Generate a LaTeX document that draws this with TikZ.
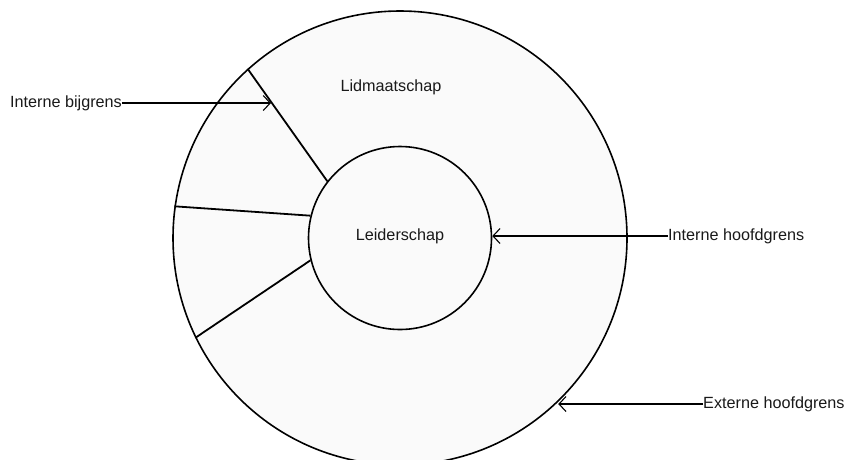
\documentclass[tikz,border=0pt]{standalone}
\usepackage{fontspec}
\setmainfont{Liberation Sans}
\usetikzlibrary{arrows.meta}
\begin{document}
\begin{tikzpicture}[x=1pt,y=-1pt,
  ring/.style={circle,draw,line width=1.6pt,fill=black!2,inner sep=0pt},
  border/.style={line width=1.8pt},
  lbl/.style={inner sep=0pt,font=\fontsize{16.2}{19}\selectfont,text=black!90},
  pointer/.style={line width=1.1pt,-{Straight Barb[length=7pt,width=15pt,line width=1.1pt]}}]
\useasboundingbox (0,0) rectangle (853,459);
\clip (0,0) rectangle (853,459);
\node[ring,minimum size=454pt] (outer) at (400,238) {};
\node[ring,minimum size=183pt,font=\fontsize{16.2}{19}\selectfont] (inner) at (400,238) {};
\node[lbl] (lead) at (400,236) {Leiderschap};
\node[lbl] (lid) at (391,87) {Lidmaatschap};
\draw[border] (outer.132.5) -- (inner.142.5);
\draw[border] (outer.172.3) -- (inner.166.7);
\draw[border] (outer.206.9) -- (inner.194.9);
\node[lbl,anchor=east] (bij) at (122,103) {Interne bijgrens};
\coordinate (bijtip) at (271,103);
\draw[pointer] (bij.east) -- (bijtip);
\node[lbl,anchor=west] (hoofd) at (668,236) {Interne hoofdgrens};
\draw[pointer] (hoofd.west) -- (hoofd.west -| inner.east);
\node[lbl,anchor=west] (ext) at (703,404) {Externe hoofdgrens};
\draw[pointer] (ext.west) -- (ext.west -| outer.-46.6);
\end{tikzpicture}
\end{document}
